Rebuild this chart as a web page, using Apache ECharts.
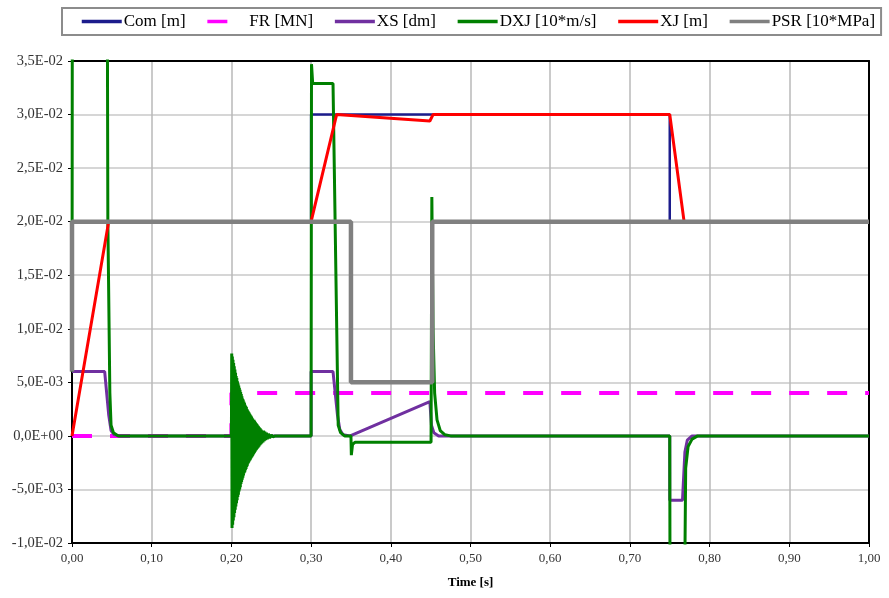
<!DOCTYPE html>
<html>
<head>
<meta charset="utf-8">
<script src="https://cdn.jsdelivr.net/npm/echarts@6/dist/echarts.min.js"></script>
<style>
  html, body { margin: 0; padding: 0; background: #fff; }
  #chart { width: 889px; height: 598px; }
</style>
</head>
<body>
<div id="chart"></div>
<script>
// [time s, value]
const com = [[0, 0.02], [0.3, 0.02], [0.3, 0.03], [0.75, 0.03], [0.75, 0.02], [1, 0.02]];
const fr = [[0, 0], [0.2, 0], [0.2, 0.004], [1, 0.004]];
const xs = [[0, 0.006], [0.041, 0.006], [0.046, 0.002], [0.049, 0.0005], [0.053, 0.0001], [0.06, 0],
  [0.3, 0], [0.3, 0.006], [0.3275, 0.006], [0.333, 0.002], [0.336, 0.0006], [0.34, 0.0001], [0.349, 0],
  [0.449, 0.0032], [0.451, 0.001], [0.454, 0.0003], [0.46, 0],
  [0.75, 0], [0.75, -0.006], [0.766, -0.006], [0.769, -0.0015], [0.772, -0.0004], [0.778, 0], [1, 0]];
const dxjStart = [[0, 0.006], [0.0005, 0.05], [0.044, 0.05], [0.045, 0.02], [0.0475, 0.004], [0.049, 0.001],
  [0.052, 0.0003], [0.058, 0], [0.2, 0]];
// ringing after the switch at 0.2 s
const dxjRing = [
  [0.2004, 0.0077], [0.2008, -0.0086], [0.2012, 0.0074], [0.2016, -0.0083], [0.2020, 0.0071],
  [0.2024, -0.0079], [0.2028, 0.0068], [0.2032, -0.0076], [0.2036, 0.0065], [0.2040, -0.0072],
  [0.2044, 0.0062], [0.2048, -0.0069], [0.2052, 0.0059], [0.2056, -0.0066], [0.2060, 0.0056],
  [0.2064, -0.0063], [0.2068, 0.0054], [0.2072, -0.0060], [0.2076, 0.0051], [0.2080, -0.0057],
  [0.2084, 0.0049], [0.2088, -0.0055], [0.2092, 0.0047], [0.2096, -0.0052], [0.2100, 0.0045],
  [0.2104, -0.0050], [0.2108, 0.0043], [0.2112, -0.0048], [0.2116, 0.0041], [0.2120, -0.0045],
  [0.2124, 0.0039], [0.2128, -0.0043], [0.2132, 0.0037], [0.2136, -0.0041], [0.2140, 0.0035],
  [0.2144, -0.0039], [0.2148, 0.0034], [0.2152, -0.0037], [0.2156, 0.0032], [0.2160, -0.0035],
  [0.2164, 0.0031], [0.2168, -0.0034], [0.2172, 0.0029], [0.2176, -0.0032], [0.2180, 0.0028],
  [0.2184, -0.0031], [0.2188, 0.0027], [0.2192, -0.0029], [0.2196, 0.0025], [0.2200, -0.0028],
  [0.2204, 0.0024], [0.2208, -0.0026], [0.2212, 0.0023], [0.2216, -0.0025], [0.2220, 0.0022],
  [0.2224, -0.0024], [0.2228, 0.0021], [0.2232, -0.0023], [0.2236, 0.0020], [0.2240, -0.0022],
  [0.2244, 0.0019], [0.2248, -0.0021], [0.2252, 0.0018], [0.2256, -0.0020], [0.2260, 0.0017],
  [0.2264, -0.0019], [0.2268, 0.0016], [0.2272, -0.0018], [0.2276, 0.0015], [0.2280, -0.0017],
  [0.2284, 0.0015], [0.2288, -0.0016], [0.2292, 0.0014], [0.2296, -0.0015], [0.2300, 0.0013],
  [0.2305, -0.0014], [0.2310, 0.0012], [0.2315, -0.0013], [0.2320, 0.0011], [0.2325, -0.0012],
  [0.2330, 0.0010], [0.2335, -0.0011], [0.2340, 0.0009], [0.2345, -0.0010], [0.2350, 0.0008],
  [0.2356, -0.0009], [0.2362, 0.0007], [0.2368, -0.0008], [0.2374, 0.0006], [0.2380, -0.0007],
  [0.2388, 0.0005], [0.2396, -0.0006], [0.2404, 0.0005], [0.2412, -0.0005], [0.2420, 0.0004],
  [0.2430, -0.0004], [0.2440, 0.0003], [0.2450, -0.0003], [0.2465, 0.0002], [0.2480, -0.0002],
  [0.2500, 0.0001], [0.2520, -0.0001], [0.2550, 0]];
const dxjEnd = [[0.3, 0], [0.3005, 0.0347], [0.302, 0.0329], [0.3275, 0.0329], [0.334, 0.001], [0.337, 0.0003],
  [0.342, 0], [0.35, 0], [0.3505, -0.0018], [0.352, -0.0008], [0.355, -0.0006], [0.4505, -0.0006],
  [0.4515, 0.0223], [0.453, 0.01], [0.455, 0.004], [0.458, 0.0015], [0.462, 0.0005], [0.468, 0.0001],
  [0.475, 0], [0.75, 0], [0.7505, -0.02], [0.768, -0.02], [0.77, -0.003], [0.773, -0.001],
  [0.778, -0.0003], [0.785, 0], [1, 0]];
const xj = [[0, 0], [0.046, 0.02], [0.3, 0.02], [0.332, 0.03], [0.449, 0.0294], [0.453, 0.03],
  [0.75, 0.03], [0.768, 0.02], [1, 0.02]];
const psr = [[0, 0.006], [0, 0.02], [0.35, 0.02], [0.35, 0.005], [0.452, 0.005], [0.452, 0.02], [1, 0.02]];

const names = ['Com [m]', 'FR [MN]', 'XS [dm]', 'DXJ [10*m/s]', 'XJ [m]', 'PSR [10*MPa]'];

const dxj = dxjStart.concat(dxjRing, dxjEnd);

const font = 'Liberation Serif';

function sci(v) {
  const s = Number(v).toExponential(1);
  const parts = s.split('e');
  let e = parseInt(parts[1], 10);
  const sign = e < 0 ? '-' : '+';
  e = Math.abs(e);
  return parts[0].replace('.', ',') + 'E' + sign + (e < 10 ? '0' + e : e);
}

function line(name, data, color, width, type) {
  return {
    name: name,
    type: 'line',
    data: data,
    symbol: 'none',
    sampling: false,
    lineStyle: { color: color, width: width, type: type || 'solid' },
    itemStyle: { color: color }
  };
}

const frame = { show: true, onZero: false, lineStyle: { color: '#000', width: 2 } };

const chart = echarts.init(document.getElementById('chart'));
chart.setOption({
  animation: false,
  backgroundColor: '#fff',
  legend: {
    left: 62,
    top: 8,
    width: 810,
    padding: [5, 6, 5, 18],
    itemGap: 20,
    itemWidth: 40,
    itemHeight: 14,
    borderColor: '#8c8c8c',
    borderWidth: 2,
    itemStyle: { opacity: 0 },
    lineStyle: { width: 3.5 },
    textStyle: { fontFamily: font, fontSize: 17, color: '#000', padding: [0, 0, 0, -3] },
    data: names.map(n => n === 'FR [MN]' ? { name: n, lineStyle: { type: [20, 40] } } : n)
  },
  grid: {
    left: 72, right: 20, top: 61, bottom: 55
  },
  xAxis: [{
    type: 'value',
    min: 0, max: 1, interval: 0.1,
    name: 'Time [s]',
    nameLocation: 'middle',
    nameGap: 33,
    nameTextStyle: { fontFamily: font, fontSize: 13, fontWeight: 'bold', color: '#000' },
    axisLine: frame,
    axisTick: { show: true, length: 4, lineStyle: { color: '#000' } },
    axisLabel: {
      fontFamily: font, fontSize: 13, color: '#333', margin: 9,
      formatter: v => v.toFixed(2).replace('.', ',')
    },
    splitLine: { lineStyle: { color: '#b8b8b8', width: 1.5 } }
  }, {
    type: 'value', position: 'top', min: 0, max: 1, z: 1,
    axisLine: frame, axisTick: { show: false }, axisLabel: { show: false }, splitLine: { show: false }
  }],
  yAxis: [{
    type: 'value',
    min: -0.01, max: 0.035, interval: 0.005,
    axisLine: frame,
    axisTick: { show: true, length: 4, lineStyle: { color: '#000' } },
    axisLabel: { fontFamily: font, fontSize: 14.5, color: '#333', margin: 9, formatter: sci },
    splitLine: { lineStyle: { color: '#c8c8c8', width: 1.5 } }
  }, {
    type: 'value', position: 'right', min: -0.01, max: 0.035, z: 1,
    axisLine: frame, axisTick: { show: false }, axisLabel: { show: false }, splitLine: { show: false }
  }],
  series: [
    line(names[0], com, '#1c1c8c', 2.5),
    line(names[1], fr, '#ff00ff', 4, [20, 18]),
    line(names[2], xs, '#7030a0', 3),
    line(names[3], dxj, '#008000', 3),
    line(names[4], xj, '#ff0000', 3),
    line(names[5], psr, '#808080', 4.5)
  ]
});
</script>
</body>
</html>
